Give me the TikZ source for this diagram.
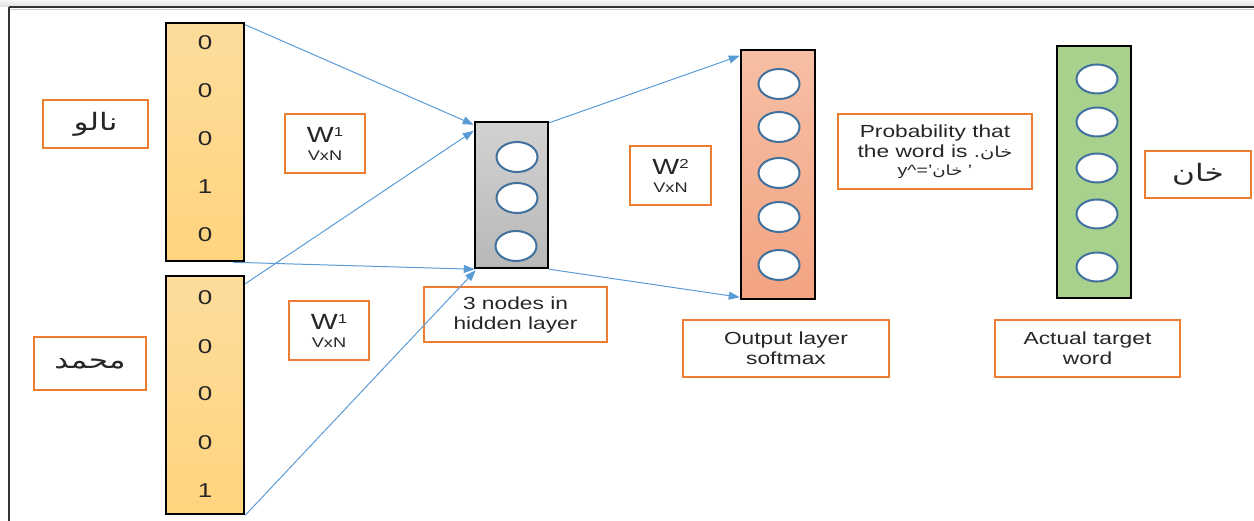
\documentclass[tikz,border=0pt]{standalone}
\usepackage{fontspec}
\setmainfont{Liberation Sans}[FakeStretch=1.3]
\newfontfamily\arabicfont[Script=Arabic,FakeStretch=1.3]{DejaVu Sans}
\TeXXeTstate=1
\usetikzlibrary{arrows.meta,shapes.geometric}
\definecolor{borange}{HTML}{ED7D31}
\definecolor{ablue}{HTML}{5B9BD5}
\definecolor{cblue}{HTML}{41719C}
\definecolor{frame}{HTML}{333333}
\definecolor{inTop}{HTML}{FDDC9C}
\definecolor{inBot}{HTML}{FFD47E}
\definecolor{hTop}{HTML}{D2D2D2}
\definecolor{hBot}{HTML}{B8B8B8}
\definecolor{oTop}{HTML}{F6BFA5}
\definecolor{oBot}{HTML}{F3A381}
\definecolor{tFill}{HTML}{A9D18E}
\tikzset{
  bar/.style={draw=black,line width=2.5pt,inner sep=0pt,rectangle},
  inbar/.style={bar,top color=inTop,bottom color=inBot,minimum width=78pt,minimum height=238pt},
  lbl/.style={draw=borange,line width=2pt,inner sep=0pt,align=center,text=black!85},
  unit/.style={ellipse,draw=cblue,line width=2pt,fill=white,minimum width=41pt,minimum height=30pt,inner sep=0pt},
  digit/.style={font=\fontsize{20}{20}\selectfont,text=black!85,inner sep=0pt},
  arr/.style={draw=ablue,line width=1pt,-{Triangle[length=11pt,width=8pt]}},
  wtxt/.style={font=\fontsize{17.5}{20}\selectfont},
  mtxt/.style={font=\fontsize{14}{18}\selectfont},
  artxt/.style={font=\arabicfont\fontsize{24}{24}\selectfont},
}
\newcommand{\wlab}[1]{{\fontsize{22}{22}\selectfont W\raisebox{6pt}{\fontsize{13}{13}\selectfont #1}}\\VxN}
\begin{document}
\begin{tikzpicture}[x=1pt,y=-1pt]
\useasboundingbox (0,0) rectangle (1254,521);
\shade[top color=gray!8,bottom color=gray!22] (0,0) rectangle (1254,6.5);
\draw[frame,line width=2pt] (8.5,7.5) -- (1254,7.5);
\draw[gray!40,line width=0.8pt] (10,9.2) -- (1254,9.2);
\draw[frame,line width=2pt] (8.5,7.5) -- (8.5,521);

% input bars
\node[inbar] (in1) at (205,142) {};
\node[inbar] (in2) at (205,395) {};
\foreach \v/\y [count=\i] in {0/43,0/91,0/139,1/187,0/235}
  \node[digit] (a\i) at (205,\y) {\v};
\foreach \v/\y [count=\i] in {0/298,0/347,0/394,0/443,1/491}
  \node[digit] (b\i) at (205,\y) {\v};

% hidden
\node[bar,top color=hTop,bottom color=hBot,minimum width=73pt,minimum height=146pt] (hid) at (511.5,195) {};
\node[unit] (h1) at (517,157) {};
\node[unit] (h2) at (517,198) {};
\node[unit] (h3) at (516,246) {};

% output
\node[bar,top color=oTop,bottom color=oBot,minimum width=74pt,minimum height=249pt] (out) at (778,174.5) {};
\foreach \y [count=\i] in {84,127,173,217,265}
  \node[unit] (o\i) at (779,\y) {};

% target
\node[bar,fill=tFill,minimum width=74pt,minimum height=252pt] (tgt) at (1094,172) {};
\foreach \y [count=\i] in {79,122,168,214,267}
  \node[unit,minimum height=29pt] (t\i) at (1097,\y) {};

% labels
\node[lbl,artxt,minimum width=105pt,minimum height=48pt] (w1) at (95.5,124) {\beginR نالو\endR};
\node[lbl,artxt,minimum width=112pt,minimum height=53pt] (w2) at (90,363.5) {\beginR محمد\endR};
\node[lbl,mtxt,minimum width=80pt,minimum height=59pt] (m1) at (325,143.5) {\wlab{1}};
\node[lbl,mtxt,minimum width=80pt,minimum height=59pt] (m2) at (329,330.5) {\wlab{1}};
\node[lbl,mtxt,minimum width=81pt,minimum height=59pt] (m3) at (670.5,175.5) {\wlab{2}};
\node[lbl,wtxt,minimum width=183pt,minimum height=55pt] (hl) at (515.5,314.5) {3 nodes in\\hidden layer};
\node[lbl,wtxt,minimum width=206pt,minimum height=57pt] (ol) at (786,348.5) {Output layer\\softmax};
\node[lbl,wtxt,minimum width=185pt,minimum height=57pt] (al) at (1087.5,348.5) {Actual target\\word};
\node[lbl,font=\fontsize{17.5}{20}\selectfont,minimum width=194pt,minimum height=75pt] (pl) at (935,151.5)
  {Probability that\\
   the word is {\arabicfont\fontsize{15}{15}\selectfont\beginR خان.\endR}\\[-2pt]
   {\fontsize{15}{15}\selectfont y\^{}='{\arabicfont\fontsize{14}{14}\selectfont\beginR خان\endR} '}};
\node[lbl,artxt,minimum width=106pt,minimum height=47pt] (kl) at (1198,174.5) {\beginR خان\endR};

% connectors
\draw[arr] ([yshift=-3pt]in1.north east) -- ([yshift=-4pt]hid.north west);
\draw[arr] ([yshift=-9pt]in2.north east) -- ([yshift=-10pt]hid.north west);
\draw[arr] ([xshift=-12pt]in1.south east) -- ([xshift=1pt]hid.south west);
\draw[arr] (in2.south east) -- ([xshift=2pt,yshift=-1pt]hid.south west);
\draw[arr] ([yshift=-2pt]hid.north east) -- ([yshift=-7pt]out.north west);
\draw[arr] (hid.south east) -- ([yshift=3pt]out.south west);
\end{tikzpicture}
\end{document}
